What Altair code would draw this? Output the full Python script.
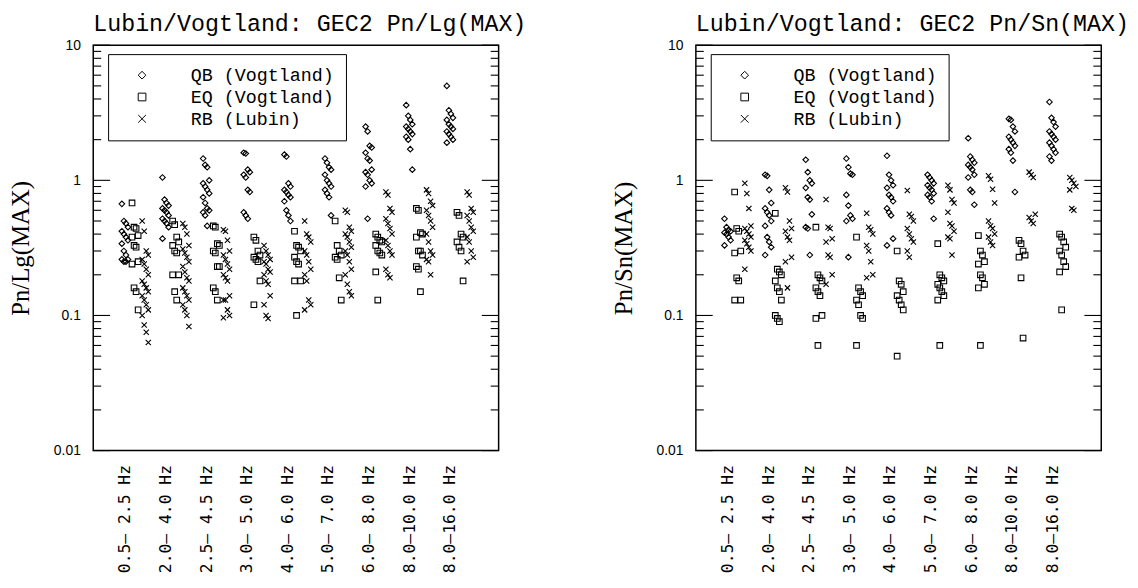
import json
import altair as alt
import pandas as pd

bands = ["0.5\u2013 2.5 Hz", "2.0\u2013 4.0 Hz", "2.5\u2013 4.5 Hz", "3.0\u2013 5.0 Hz",
         "4.0\u2013 6.0 Hz", "5.0\u2013 7.0 Hz", "6.0\u2013 8.0 Hz", "8.0\u201310.0 Hz",
         "8.0\u201316.0 Hz"]
types = ["QB (Vogtland)", "EQ (Vogtland)", "RB (Lubin)"]

lg_qb = [
    [0.67, 0.5, 0.48, 0.45, 0.42, 0.4, 0.38, 0.36, 0.34, 0.3, 0.28, 0.26, 0.26, 0.25, 0.25],
    [1.05, 0.72, 0.68, 0.65, 0.62, 0.6, 0.58, 0.55, 0.52, 0.5, 0.48, 0.45, 0.37],
    [1.45, 1.3, 1.25, 1.0, 0.95, 0.9, 0.85, 0.8, 0.75, 0.68, 0.62, 0.6, 0.58, 0.55, 0.46],
    [1.6, 1.58, 1.2, 1.15, 1.1, 1.05, 0.85, 0.82, 0.58, 0.55, 0.52],
    [1.55, 1.5, 0.95, 0.9, 0.85, 0.82, 0.78, 0.75, 0.7, 0.6, 0.55, 0.5],
    [1.45, 1.35, 1.25, 1.2, 1.1, 1.0, 0.95, 0.9, 0.85, 0.8, 0.75, 0.55],
    [2.5, 2.3, 1.8, 1.75, 1.6, 1.45, 1.4, 1.2, 1.15, 1.1, 1.0, 0.95, 0.9, 0.52],
    [3.6, 3.0, 2.8, 2.6, 2.5, 2.4, 2.3, 2.2, 2.1, 2.0, 1.7, 1.2],
    [5.0, 3.3, 3.1, 2.9, 2.8, 2.6, 2.5, 2.4, 2.3, 2.2, 2.1, 2.0, 1.9],
]
lg_eq = [
    [0.68, 0.45, 0.44, 0.39, 0.38, 0.33, 0.32, 0.25, 0.24, 0.16, 0.15, 0.11],
    [0.5, 0.47, 0.38, 0.35, 0.33, 0.3, 0.29, 0.2, 0.2, 0.15, 0.13],
    [0.46, 0.45, 0.34, 0.33, 0.3, 0.29, 0.23, 0.23, 0.16, 0.15, 0.13],
    [0.38, 0.36, 0.3, 0.28, 0.27, 0.26, 0.25, 0.18, 0.12],
    [0.42, 0.33, 0.32, 0.3, 0.27, 0.25, 0.24, 0.18, 0.18, 0.1],
    [0.5, 0.33, 0.3, 0.28, 0.27, 0.26, 0.19, 0.13],
    [0.4, 0.38, 0.36, 0.35, 0.33, 0.3, 0.29, 0.28, 0.21, 0.13],
    [0.62, 0.6, 0.41, 0.4, 0.38, 0.3, 0.3, 0.28, 0.23, 0.22, 0.15],
    [0.58, 0.55, 0.4, 0.38, 0.35, 0.32, 0.3, 0.18],
]
lg_rb = [
    [0.5, 0.42, 0.3, 0.28, 0.26, 0.24, 0.22, 0.2, 0.18, 0.17, 0.16, 0.15, 0.14, 0.13, 0.12,
     0.11, 0.1, 0.085, 0.075, 0.063],
    [0.48, 0.45, 0.4, 0.33, 0.31, 0.29, 0.27, 0.25, 0.23, 0.21, 0.19, 0.18, 0.16, 0.15, 0.14,
     0.13, 0.12, 0.11, 0.1, 0.083],
    [0.43, 0.42, 0.36, 0.3, 0.28, 0.26, 0.24, 0.22, 0.2, 0.19, 0.18, 0.14, 0.13, 0.13, 0.11,
     0.1, 0.096],
    [0.33, 0.3, 0.28, 0.26, 0.25, 0.24, 0.22, 0.21, 0.2, 0.18, 0.17, 0.14, 0.12, 0.1, 0.095],
    [0.5, 0.4, 0.38, 0.35, 0.3, 0.28, 0.25, 0.22, 0.2, 0.18, 0.13, 0.12, 0.11],
    [0.6, 0.58, 0.45, 0.42, 0.4, 0.38, 0.35, 0.32, 0.3, 0.28, 0.25, 0.22, 0.2, 0.17, 0.15, 0.14],
    [0.82, 0.78, 0.62, 0.58, 0.52, 0.48, 0.44, 0.4, 0.36, 0.33, 0.3, 0.28, 0.22, 0.2, 0.19],
    [0.85, 0.8, 0.7, 0.65, 0.6, 0.55, 0.5, 0.45, 0.4, 0.35, 0.3, 0.28, 0.26, 0.25, 0.2],
    [0.82, 0.78, 0.62, 0.58, 0.55, 0.5, 0.45, 0.42, 0.38, 0.35, 0.3, 0.27, 0.25],
]

sn_qb = [
    [0.52, 0.45, 0.43, 0.42, 0.41, 0.4, 0.38, 0.36, 0.33],
    [1.1, 1.08, 0.85, 0.68, 0.62, 0.58, 0.55, 0.5, 0.46, 0.38, 0.35, 0.32, 0.28],
    [1.42, 1.15, 1.0, 0.95, 0.88, 0.75, 0.72, 0.56, 0.45, 0.44, 0.28],
    [1.45, 1.25, 1.12, 1.1, 0.78, 0.65, 0.55, 0.52, 0.5, 0.27],
    [1.52, 1.1, 1.0, 0.92, 0.88, 0.78, 0.75, 0.7, 0.62, 0.58, 0.55, 0.37, 0.33],
    [1.1, 1.05, 1.0, 0.95, 0.92, 0.88, 0.85, 0.8, 0.78, 0.75, 0.7, 0.52],
    [2.05, 1.5, 1.42, 1.35, 1.3, 1.25, 1.2, 1.1, 1.05, 0.85, 0.82, 0.66],
    [2.85, 2.8, 2.5, 2.3, 2.1, 2.0, 1.9, 1.8, 1.7, 1.6, 1.4, 0.82],
    [3.8, 2.9, 2.7, 2.5, 2.3, 2.2, 2.1, 2.0, 1.9, 1.8, 1.7, 1.6, 1.5, 1.4],
]
sn_eq = [
    [0.82, 0.44, 0.42, 0.3, 0.29, 0.19, 0.18, 0.13, 0.13],
    [0.57, 0.22, 0.21, 0.2, 0.18, 0.16, 0.15, 0.13, 0.1, 0.095, 0.09],
    [0.45, 0.2, 0.19, 0.18, 0.16, 0.15, 0.14, 0.1, 0.095, 0.06],
    [0.38, 0.16, 0.15, 0.14, 0.13, 0.12, 0.1, 0.095, 0.06],
    [0.3, 0.18, 0.17, 0.15, 0.14, 0.13, 0.12, 0.11, 0.05],
    [0.34, 0.2, 0.19, 0.18, 0.17, 0.16, 0.15, 0.14, 0.13, 0.06],
    [0.39, 0.3, 0.28, 0.25, 0.24, 0.2, 0.19, 0.17, 0.16, 0.06],
    [0.36, 0.34, 0.3, 0.28, 0.27, 0.19, 0.068],
    [0.4, 0.38, 0.35, 0.32, 0.3, 0.28, 0.25, 0.23, 0.21, 0.11],
]
sn_rb = [
    [0.95, 0.8, 0.62, 0.46, 0.44, 0.42, 0.4, 0.38, 0.36, 0.34, 0.32, 0.3, 0.22],
    [0.88, 0.82, 0.5, 0.44, 0.42, 0.38, 0.36, 0.27, 0.25, 0.16],
    [0.72, 0.45, 0.44, 0.37, 0.35, 0.28, 0.27, 0.2, 0.17],
    [0.57, 0.45, 0.43, 0.4, 0.33, 0.3, 0.25, 0.2, 0.19],
    [0.84, 0.56, 0.54, 0.5, 0.44, 0.4, 0.37, 0.35, 0.3, 0.27],
    [0.92, 0.85, 0.72, 0.68, 0.58, 0.48, 0.46, 0.42, 0.38, 0.37, 0.28],
    [1.08, 1.02, 0.86, 0.68, 0.5, 0.46, 0.44, 0.4, 0.38, 0.35, 0.33],
    [1.15, 1.1, 1.05, 0.56, 0.53, 0.5, 0.48],
    [1.05, 1.0, 0.95, 0.9, 0.85, 0.62, 0.6],
]

TYPE_SHIFT = {types[0]: 0.0, types[1]: 0.25, types[2]: 0.5}
TYPE_SIZE = {types[0]: 32, types[1]: 32, types[2]: 28}
CROSS = "M-1,-1L1,1M-1,1L1,-1"
TICK_L, TICK_R = "tick_l", "tick_r"
W = 409
H = 409
# band k is centred at x = k + 1 so that every x value stays positive
XMIN, XMAX = 0.22, 10.2

major = [0.01, 0.1, 1.0, 10.0]
minor = [round(k * m, 4) for m in (0.01, 0.1, 1.0) for k in range(2, 10)]
MAJOR_LEN, MINOR_LEN = 17, 8


def build(series):
    rows = []
    for t, per_band in zip(types, series):
        for b, vals in enumerate(per_band):
            for j, v in enumerate(vals):
                rows.append({"type": t, "value": v, "sz": TYPE_SIZE[t],
                             "pos": b + 1 + TYPE_SHIFT[t] + ((j % 4) - 1.5) * 0.05})
    # inward frame ticks: a line symbol anchored on each side of the frame
    for vals, length in ((major, MAJOR_LEN), (minor, MINOR_LEN)):
        for v in vals:
            rows.append({"type": TICK_L, "value": v, "sz": length ** 2, "pos": XMIN})
            rows.append({"type": TICK_R, "value": v, "sz": length ** 2, "pos": XMAX})
    return pd.DataFrame(rows)


label_expr = json.dumps(bands, ensure_ascii=False) + "[round(datum.value) - 1]"
YSCALE = alt.Scale(type="log", domain=[0.01, 10], nice=False)
XSCALE = alt.Scale(domain=[XMIN, XMAX], nice=False, zero=False)
XAXIS = alt.Axis(values=list(range(1, 10)), labelExpr=label_expr, labelAngle=270,
                 title=None, domain=False, ticks=False, grid=False,
                 labelFont="DejaVu Sans Mono", labelFontSize=16.5,
                 labelColor="black", labelPadding=14, labelLimit=200)


def panel(df, title, ytitle):
    yaxis = alt.Axis(orient="left", values=major, format="~g", title=ytitle, domain=False,
                     ticks=False, grid=False, labelFont="Liberation Sans", labelFontSize=14,
                     labelColor="black", labelPadding=13, titleFont="Liberation Serif",
                     titleFontSize=25, titleFontWeight="normal", titleColor="black",
                     titlePadding=20)
    pts = alt.Chart(df).mark_point(filled=False, color="black", strokeWidth=1.1,
                                   opacity=1).encode(
        x=alt.X("pos:Q", scale=XSCALE, axis=XAXIS),
        y=alt.Y("value:Q", scale=YSCALE, axis=yaxis),
        size=alt.Size("sz:Q", scale=None),
        shape=alt.Shape("type:N",
                        scale=alt.Scale(domain=types + [TICK_L, TICK_R],
                                        range=["diamond", "square", CROSS,
                                               "M0,0L2,0", "M0,0L-2,0"]),
                        legend=alt.Legend(values=types, title=None, orient="none",
                                          legendX=15, legendY=9,
                                          direction="vertical", strokeColor="black",
                                          fillColor="white", padding=12,
                                          labelFont="Liberation Mono", labelFontSize=18.5,
                                          labelColor="black", labelLimit=300,
                                          symbolSize=60, symbolStrokeColor="black",
                                          symbolFillColor="white",
                                          symbolStrokeWidth=1, symbolOffset=13,
                                          labelOffset=40, rowPadding=3)),
    )
    return pts.properties(
        width=W, height=H,
        title=alt.TitleParams(title, anchor="start", frame="group",
                              font="Liberation Mono", fontSize=23.5, fontWeight="normal",
                              color="black", offset=3),
    )


left = panel(build([lg_qb, lg_eq, lg_rb]), "Lubin/Vogtland: GEC2 Pn/Lg(MAX)", "Pn/Lg(MAX)")
right = panel(build([sn_qb, sn_eq, sn_rb]), "Lubin/Vogtland: GEC2 Pn/Sn(MAX)", "Pn/Sn(MAX)")

chart = alt.hconcat(left, right, spacing=84).resolve_scale(shape="independent").configure(
    padding=0, background="white"
).configure_view(stroke="black", strokeWidth=1.5)

chart.save("out.html", embed_options={"renderer": "svg", "actions": False})
